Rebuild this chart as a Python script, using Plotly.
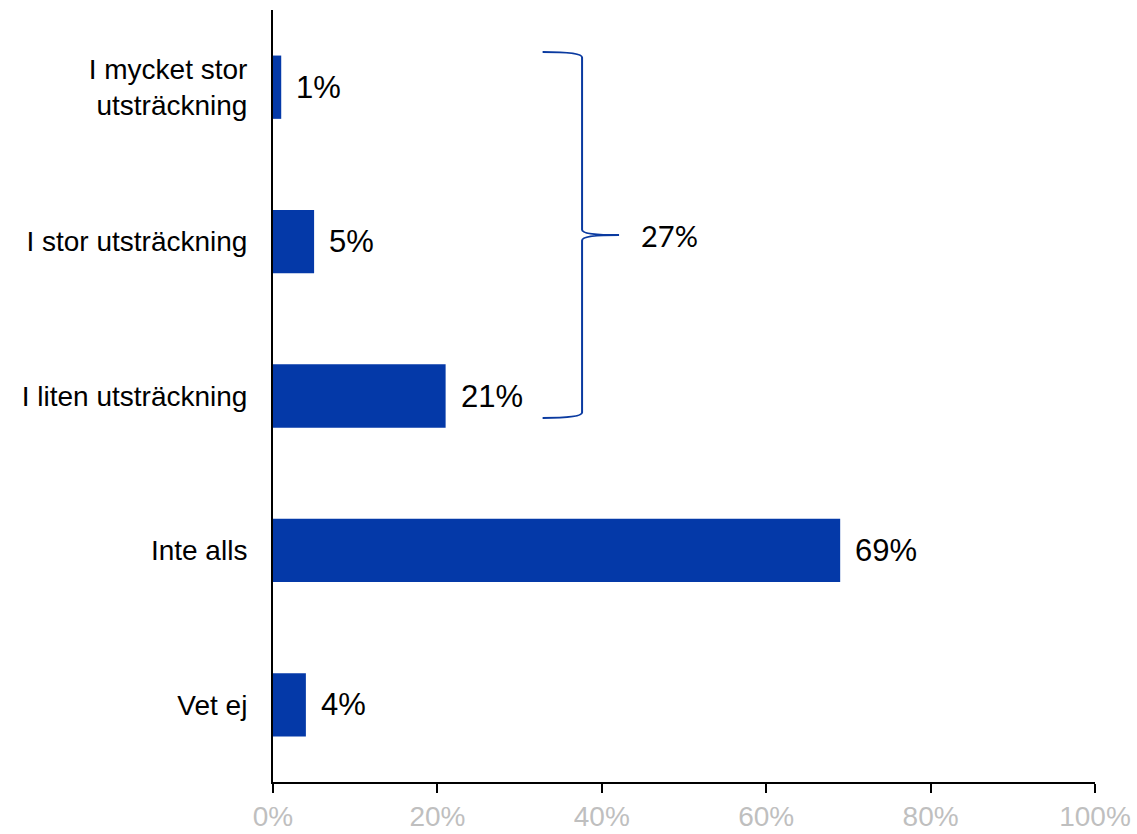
import plotly.graph_objects as go

# Survey answers, top to bottom
categories = [
    "I mycket stor<br>utsträckning",
    "I stor utsträckning",
    "I liten utsträckning",
    "Inte alls",
    "Vet ej",
]
shares = [1, 5, 21, 69, 4]

# Combined share of the three "yes" answers, shown beside the brace
combined_share = 27

x_ticks = [0, 20, 40, 60, 80, 100]
x_tick_labels = ["0%", "20%", "40%", "60%", "80%", "100%"]

BAR_COLOR = "#0439a8"

fig = go.Figure(
    go.Bar(
        x=shares,
        y=categories,
        orientation="h",
        marker=dict(color=BAR_COLOR, line=dict(width=0)),
        hoverinfo="skip",
    )
)

# Value labels just right of each bar end
for cat, val in zip(categories, shares):
    fig.add_annotation(
        x=val, y=cat, xref="x", yref="y",
        text=f"{val}%", showarrow=False,
        xanchor="left", yanchor="middle", xshift=13,
        font=dict(family="Liberation Sans, Arial", size=31, color="#000000"),
    )

# Curly brace spanning the first three answers (x in %, y in paper units)
bx_end, bx_spine, bx_tip = 32.8, 37.6, 42.1
by_top, by_mid, by_bot = 0.9456, 0.7085, 0.4715
d = 0.007
brace = (
    f"M {bx_end},{by_top} Q {bx_spine},{by_top} {bx_spine},{by_top - d} "
    f"L {bx_spine},{by_mid + d} Q {bx_spine},{by_mid} {bx_tip},{by_mid} "
    f"Q {bx_spine},{by_mid} {bx_spine},{by_mid - d} "
    f"L {bx_spine},{by_bot + d} Q {bx_spine},{by_bot} {bx_end},{by_bot}"
)
fig.add_shape(
    type="path", path=brace, xref="x", yref="paper",
    line=dict(color="#0a3aa0", width=2),
)
fig.add_annotation(
    x=bx_tip, y=by_mid, xref="x", yref="paper",
    text=f"{combined_share}%", showarrow=False,
    xanchor="left", yanchor="middle", xshift=20,
    font=dict(family="Lato, Open Sans", size=29, color="#000000"),
)

fig.update_layout(
    width=1137, height=834,
    margin=dict(l=273, r=42, t=10, b=52),
    paper_bgcolor="white", plot_bgcolor="white",
    showlegend=False,
    bargap=0.59,
    xaxis=dict(
        range=[0, 100], automargin=False,
        tickmode="array", tickvals=x_ticks, ticktext=x_tick_labels,
        showgrid=False, zeroline=False,
        showline=True, linecolor="#000000", linewidth=1.5,
        ticks="outside", ticklen=9, tickwidth=1.5, tickcolor="#000000",
        tickfont=dict(family="Liberation Sans, Arial", size=28, color="#bfbfbf"),
    ),
    yaxis=dict(
        autorange="reversed", automargin=False,
        showgrid=False, zeroline=False,
        showline=True, linecolor="#000000", linewidth=2,
        ticks="", ticklabelstandoff=18,
        tickfont=dict(family="Liberation Sans, Arial", size=28, color="#000000"),
    ),
)

fig.write_html("out.html")
